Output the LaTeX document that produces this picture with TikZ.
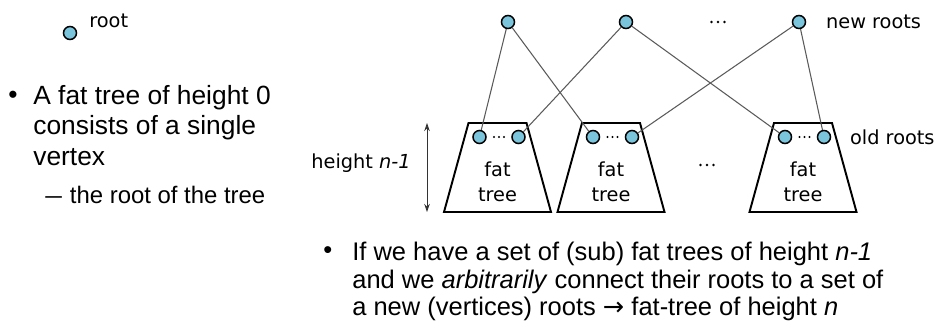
\documentclass[tikz,border=0pt]{standalone}
\usepackage{fontspec}
\setmainfont{Liberation Sans}
\newfontfamily\labelfont{DejaVu Sans}
\usetikzlibrary{arrows.meta,positioning}
\definecolor{rootblue}{RGB}{122,196,220}
\definecolor{edgegray}{RGB}{90,90,90}
\tikzset{
  rootdot/.style={circle,draw=black,line width=0.85pt,fill=rootblue,inner sep=0pt,minimum size=2.6mm},
  fattree/.style={draw=black,line width=1.1pt,line join=miter},
  lbl/.style={inner sep=0pt,font=\labelfont\fontsize{11}{14.2}\selectfont},
  edgeline/.style={draw=edgegray,line width=0.6pt},
  bodytext/.style={inner sep=0pt,align=left,font=\fontsize{15}{17.3}\selectfont}
}
\begin{document}
\begin{tikzpicture}[x=0.2mm,y=-0.2mm]
  \useasboundingbox (0,0) rectangle (939,329);
  % height 0
  \node[rootdot] (root0) at (70,33) {};
  \node[lbl,anchor=west] (rootlbl) at (89,21) {root};
  \node[bodytext,anchor=base west] (bul1) at (8,103) {•};
  \node[bodytext,anchor=north west] (zero) at (33,85) {A fat tree of height 0\\consists of a single\\vertex};
  \node[bodytext,anchor=base west,font=\fontsize{13.6}{16}\selectfont] (sub1) at (45,203) {\scalebox{1.25}[1]{–}\hspace{1.6mm}the root of the tree};
  % new roots
  \node[rootdot] (nr1) at (508,22) {};
  \node[rootdot] (nr2) at (626,22) {};
  \foreach \dx in {-6.5,0,6.5} \fill (718+\dx,22) circle[radius=0.26mm];
  \node[rootdot] (nr3) at (799,22) {};
  \node[lbl,right=3.9mm of nr3] (newlbl) {new roots};
  % sub trees of height n-1
  \foreach \t/\cx in {1/497.5,2/611,3/803} {
    \coordinate (t\t) at (\cx,167.5);
    \draw[fattree] (\cx-53.5,212) -- (\cx-29,123) -- (\cx+29,123) -- (\cx+53.5,212) -- cycle;
    \node[lbl,align=center] (l\t) at (\cx,182) {fat\\tree};
    \node[rootdot] (t\t a) at (\cx-18,137) {};
    \node[rootdot] (t\t b) at (\cx+21,137) {};
    \foreach \dx in {-5,0,5} \fill (\cx+1.5+\dx,137) circle[radius=0.22mm];
  }
  \foreach \dx in {-6.5,0,6.5} \fill (707+\dx,165) circle[radius=0.26mm];
  \node[lbl,right=3.7mm of t3b] (oldlbl) {old roots};
  \coordinate (htop) at (427,123);
  \coordinate (hbot) at (427,212);
  \draw[{Stealth[length=1.6mm,width=1.1mm]}-{Stealth[length=1.6mm,width=1.1mm]},line width=0.5pt,draw=black!80] (htop) -- (hbot);
  \node[lbl,anchor=east] (hlbl) at (411,163) {height \textit{n-1}};
  % connections
  \draw[edgeline] (nr1) -- (t1a);
  \draw[edgeline] (nr1) -- (t2a);
  \draw[edgeline] (nr2) -- (t1b);
  \draw[edgeline] (nr2) -- (t3a);
  \draw[edgeline] (nr3) -- (t2b);
  \draw[edgeline] (nr3) -- (t3b);
  % height n
  \node[bodytext,anchor=base west,font=\fontsize{14.5}{15.6}\selectfont] (bul2) at (323,258) {•};
  \node[bodytext,anchor=north west,font=\fontsize{14.5}{15.6}\selectfont] (nstep) at (352,242)
  {If we have a set of (sub) fat trees of height \textit{n-1}\\
  and we \textit{arbitrarily} connect their roots to a set of\\
  a new (vertices) roots {\labelfont →} fat-tree of height \textit{n}};
\end{tikzpicture}
\end{document}
